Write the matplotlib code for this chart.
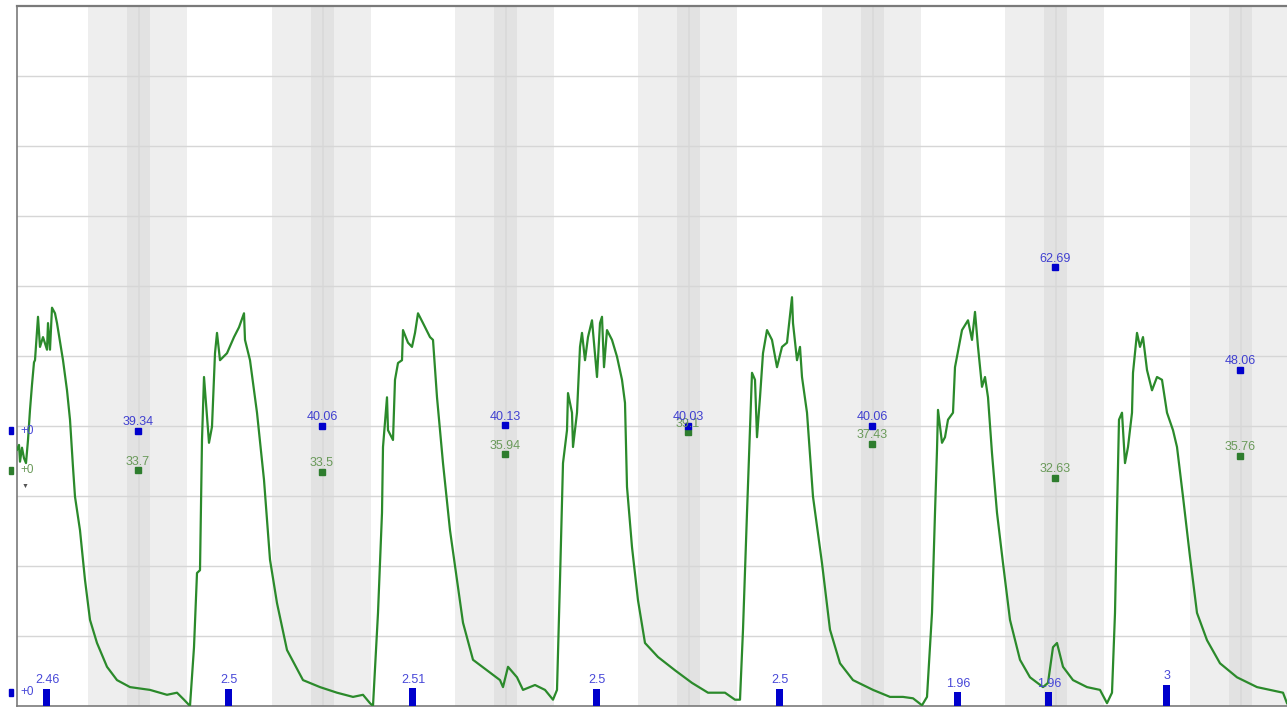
import matplotlib
matplotlib.use("Agg")
import matplotlib.pyplot as plt
from matplotlib.patches import Rectangle

plt.rcParams['font.family'] = ['Liberation Sans', 'DejaVu Sans']

# ---- data (time in sample units, level in 0-100 scale) ----
time = [0, 2, 3, 5, 7, 9, 11, 13, 15, 17, 18, 21, 23, 26, 30, 31, 33, 35, 38, 40,
        43, 46, 50, 53, 56, 58, 63, 68, 73, 80, 90, 100, 113, 133, 150, 160, 167, 173,
        177, 180, 183, 185, 187, 188, 192, 195, 198, 200, 203, 210, 217, 222, 227, 228,
        233, 240, 247, 253, 260, 270, 286, 303, 320, 336, 346, 353, 356,
        361, 365, 366, 370, 371, 376, 378, 381, 385, 386, 391, 395, 398, 401, 406, 413,
        416, 420, 426, 433, 440, 446, 456, 470, 483, 486, 491, 500, 506, 518, 528, 536, 540,
        543, 546, 550, 551, 555, 556, 560, 563, 565, 568, 571, 575, 580, 583, 585, 587,
        590, 595, 600, 605, 608, 610, 615, 621, 628, 641, 658, 675, 691, 708, 718, 723,
        726, 730, 733, 735, 738, 740, 743, 746, 750, 755, 760, 765, 770, 775, 776, 780,
        783, 785, 790, 796, 805, 813, 823, 836, 856, 873, 886, 896, 905, 910,
        915, 918, 920, 921, 925, 928, 931, 936, 938, 945, 951, 955, 958, 961, 965, 968,
        971, 975, 980, 986, 993, 1003, 1013, 1026, 1031, 1036, 1040, 1046, 1056, 1070,
        1083, 1090, 1095,
        1098, 1100, 1102, 1105, 1108, 1111, 1115, 1116, 1120, 1123, 1126, 1130, 1135,
        1140, 1145, 1150, 1156, 1160, 1166, 1173, 1180, 1190, 1203, 1220, 1240, 1253,
        1266, 1270]
level = [36.6, 37.3, 34.9, 36.9, 35.4, 34.7, 38.0, 42.3, 45.9, 49.1, 49.4, 55.6, 51.3,
         52.7, 50.9, 54.7, 50.9, 56.9, 56.1, 54.7, 52.0, 49.4, 45.1, 40.9, 34.1, 29.9,
         25.1, 18.0, 12.3, 9.0, 5.6, 3.7, 2.7, 2.3, 1.6, 1.9, 0.9, 0.0,
         8.4, 19.0, 19.4, 38.0, 47.0, 45.1, 37.6, 39.9, 50.4, 53.3, 49.4, 50.4, 52.7,
         54.1, 56.1, 52.3, 49.4, 41.9, 32.3, 20.9, 14.7, 8.0, 3.7, 2.7, 1.9, 1.3, 1.6,
         0.4, 0.0,
         13.3, 27.6, 37.0, 44.1, 39.4, 38.0, 46.6, 49.0, 49.4, 53.7, 51.9, 51.3, 53.3,
         56.1, 54.7, 52.7, 52.3, 44.1, 34.7, 25.1, 18.0, 11.9, 6.6, 5.1, 3.7, 2.7, 5.6,
         4.1, 2.3, 3.0, 2.3, 0.9, 2.3,
         18.0, 34.7, 39.4, 44.7, 41.9, 37.0, 41.9, 51.3, 53.3, 49.4, 52.7, 55.1, 47.0,
         54.7, 55.6, 48.4, 53.7, 52.3, 49.9, 46.6, 43.3, 31.3, 22.7, 15.1, 9.0, 7.0,
         5.1, 3.3, 1.9, 1.9, 0.9, 0.9,
         10.9, 27.6, 39.4, 47.6, 46.6, 38.4, 44.1, 50.4, 53.7, 52.3, 48.4, 51.3, 51.9,
         58.4, 54.7, 49.4, 51.3, 47.0, 41.9, 29.9, 20.4, 10.9, 6.1, 3.7, 2.3, 1.3, 1.3,
         1.1, 0.1, 1.3,
         13.3, 27.6, 36.6, 42.3, 37.6, 38.4, 40.9, 41.9, 48.4, 53.7, 55.1, 52.3, 56.3,
         51.3, 45.6, 47.0, 44.1, 36.1, 27.6, 20.4, 12.3, 6.6, 4.1, 2.7, 3.3, 8.4, 9.0,
         5.6, 3.7, 2.7, 2.3, 0.4, 1.9,
         13.3, 27.6, 40.9, 41.9, 34.7, 37.0, 41.9, 47.6, 53.3, 51.3, 52.7, 48.0, 45.1,
         47.0, 46.6, 41.9, 39.4, 37.0, 29.9, 21.3, 13.3, 9.4, 6.1, 4.1, 2.7, 2.3, 1.9,
         0.4]

band_centers = [121, 305, 488, 671, 855, 1038, 1223]
upper_values = [39.34, 40.06, 40.13, 40.03, 40.06, 62.69, 48.06]
lower_values = [33.7, 33.5, 35.94, 39.1, 37.43, 32.63, 35.76]

bar_times = [29, 211, 395, 579, 762, 940, 1031, 1149]
bar_values = [2.46, 2.5, 2.51, 2.5, 2.5, 1.96, 1.96, 3]

# ---- figure ----
W, H = 1287, 708
fig = plt.figure(figsize=(W / 100, H / 100), dpi=100)
ax = fig.add_axes([17 / W, 2 / H, 1270 / W, 700 / H])
ax.set_xlim(0, 1270)
ax.set_ylim(0, 100)

# shaded bands
for c in band_centers:
    ax.axvspan(c - 50, c + 49, color='#eeeeee', lw=0, zorder=0)
    ax.axvspan(c - 11, c + 12, color='#e2e2e2', lw=0, zorder=0.1)
    ax.axvline(c + 0.5, color='#d9d9d9', lw=1.2, zorder=0.2)

# grid
ax.set_yticks(range(10, 100, 10))
ax.set_xticks([])
ax.tick_params(axis='y', length=0, labelleft=False)
ax.grid(axis='y', color='#d6d6d6', lw=1)
ax.set_axisbelow(True)

for s in ['left', 'top', 'bottom']:
    ax.spines[s].set_color('#7a7a7a')
ax.spines['top'].set_linewidth(1.6)
ax.spines['left'].set_linewidth(1.2)
ax.spines['bottom'].set_linewidth(1.2)
ax.spines['right'].set_visible(False)

# main trace
ax.plot(time, level, color='#2b8a2b', lw=1.6, zorder=3)

# bars
ax.bar(bar_times, bar_values, width=7, color='#0000cc', zorder=4, clip_on=False)
for t, v in zip(bar_times, bar_values):
    ax.annotate(f"{v:g}", (t, v), xytext=(1, 4), textcoords='offset points',
                ha='center', va='baseline', fontsize=9, color='#4848d8', zorder=5)

# summary markers
ax.plot(band_centers, lower_values, 's', ms=5, color='#2e7d2e', zorder=5)
ax.plot(band_centers, upper_values, 's', ms=5, color='#0000cc', zorder=6)
for c, v in zip(band_centers, lower_values):
    ax.annotate(f"{v:g}", (c, v), xytext=(0, 4), textcoords='offset points',
                ha='center', va='baseline', fontsize=9, color='#6a9a5a', zorder=6)
for c, v in zip(band_centers, upper_values):
    ax.annotate(f"{v:g}", (c, v), xytext=(0, 4), textcoords='offset points',
                ha='center', va='baseline', fontsize=9, color='#4040d0', zorder=7)

# left-edge series start markers
starts = [(upper_values[0], '#0000cc', '#4848d8'),
          (lower_values[0], '#2e7d2e', '#6a9a5a'),
          (bar_values[0] - 0.5, '#0000cc', '#4848d8')]
for v, mc, tc in starts:
    ax.add_patch(Rectangle((-8, v - 0.5), 3.5, 1.0, color=mc, clip_on=False, zorder=6))
    ax.text(3, v, "+0", ha='left', va='center', fontsize=8.5, color=tc, zorder=6)
ax.text(8, lower_values[0] - 2.3, "\u25bc", ha='center', va='center', fontsize=5,
        color='#555555', zorder=6)

fig.savefig('out.png', dpi=100, facecolor='white')
